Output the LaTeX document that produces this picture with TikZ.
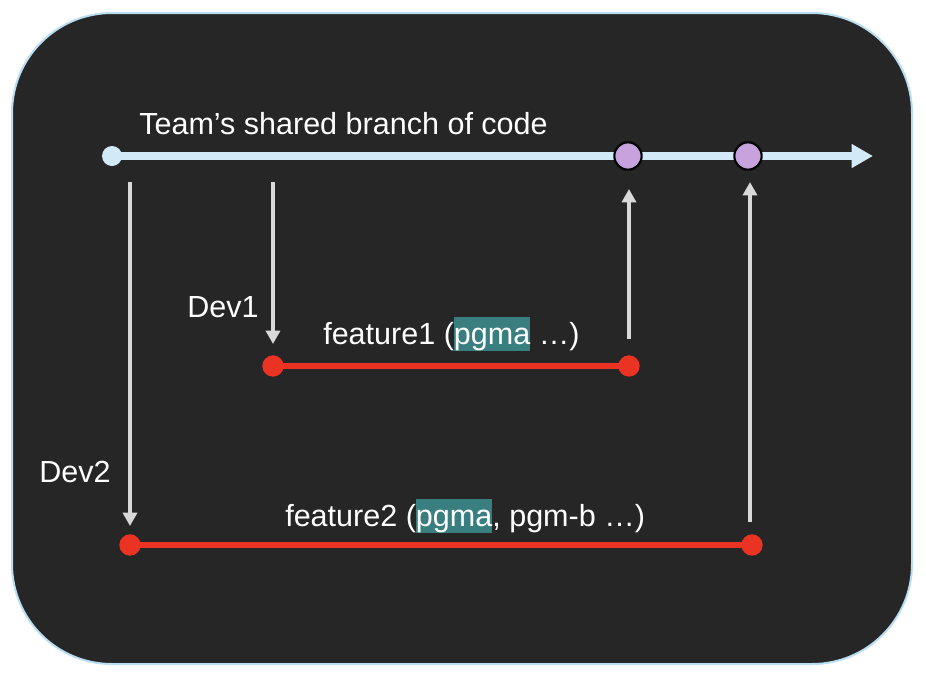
\documentclass[tikz,border=0pt]{standalone}
\usepackage{fontspec}
\setmainfont{Liberation Sans}
\usetikzlibrary{arrows.meta}
\definecolor{bgdark}{HTML}{262626}
\definecolor{bordblue}{HTML}{B9DDF1}
\definecolor{mainblue}{HTML}{D2EAF8}
\definecolor{commitpurple}{HTML}{C8A2DC}
\definecolor{featred}{HTML}{EA3323}
\definecolor{arrgray}{HTML}{D9D9D9}
\definecolor{hlteal}{HTML}{3A7F80}
\newcommand\hlword[1]{{\setlength{\fboxsep}{0pt}\colorbox{hlteal}{\rule[-0.22em]{0pt}{1.12em}#1}}}
\begin{document}
\begin{tikzpicture}[x=0.75pt,y=-0.75pt,
  lbl/.style={text=white,font=\fontsize{22.9}{27}\selectfont,inner sep=0pt,anchor=base west},
  reddot/.style={circle,fill=featred,minimum size=16pt,inner sep=0pt},
  commitdot/.style={circle,fill=commitpurple,draw=black,line width=1.6pt,minimum size=20.5pt,inner sep=0pt},
  redline/.style={featred,line width=4.2pt},
  grayarrow/.style={arrgray,line width=2.5pt,-{Triangle[length=10pt,width=10.5pt]}},
]
\useasboundingbox (0,0) rectangle (926,676);
\draw[bordblue,fill=bgdark,line width=1.5pt,rounded corners=75pt] (12,13) rectangle (912,664);

% main branch
\node[circle,fill=mainblue,minimum size=15pt,inner sep=0pt] (start) at (112,156) {};
\coordinate (mainend) at (873,156);
\draw[mainblue,line width=5.5pt,-{Triangle[length=16pt,width=17pt]}] (start.center) -- (mainend);
\node[commitdot] (c1) at (628,156) {};
\node[commitdot] (c2) at (748,156) {};
\node[lbl] (title) at (139,134) {Team’s shared branch of code};

% feature 1
\node[reddot] (f1a) at (273,366) {};
\node[reddot] (f1b) at (629,366) {};
\draw[redline] (f1a.center) -- (f1b.center);
\node[lbl] (f1lbl) at (323,344) {feature1 (\hlword{pgma} …)};

% feature 2
\node[reddot] (f2a) at (130,545) {};
\node[reddot] (f2b) at (752,545) {};
\draw[redline] (f2a.center) -- (f2b.center);
\node[lbl] (f2lbl) at (285,526) {feature2 (\hlword{pgma}, pgm-b …)};

% dev labels
\node[lbl] (dev1) at (187,317) {Dev1};
\node[lbl] (dev2) at (39,482) {Dev2};

% arrows
\coordinate (d1top) at (273,182);
\coordinate (d1tip) at (273,344);
\coordinate (d2top) at (130,182);
\coordinate (d2tip) at (130,526);
\coordinate (u1bot) at (629,339);
\coordinate (u1tip) at (629,189);
\coordinate (u2bot) at (750,522);
\coordinate (u2tip) at (750,182);
\draw[grayarrow] (d1top) -- (d1tip);
\draw[grayarrow] (d2top) -- (d2tip);
\draw[grayarrow] (u1bot) -- (u1tip);
\draw[grayarrow] (u2bot) -- (u2tip);
\end{tikzpicture}
\end{document}
